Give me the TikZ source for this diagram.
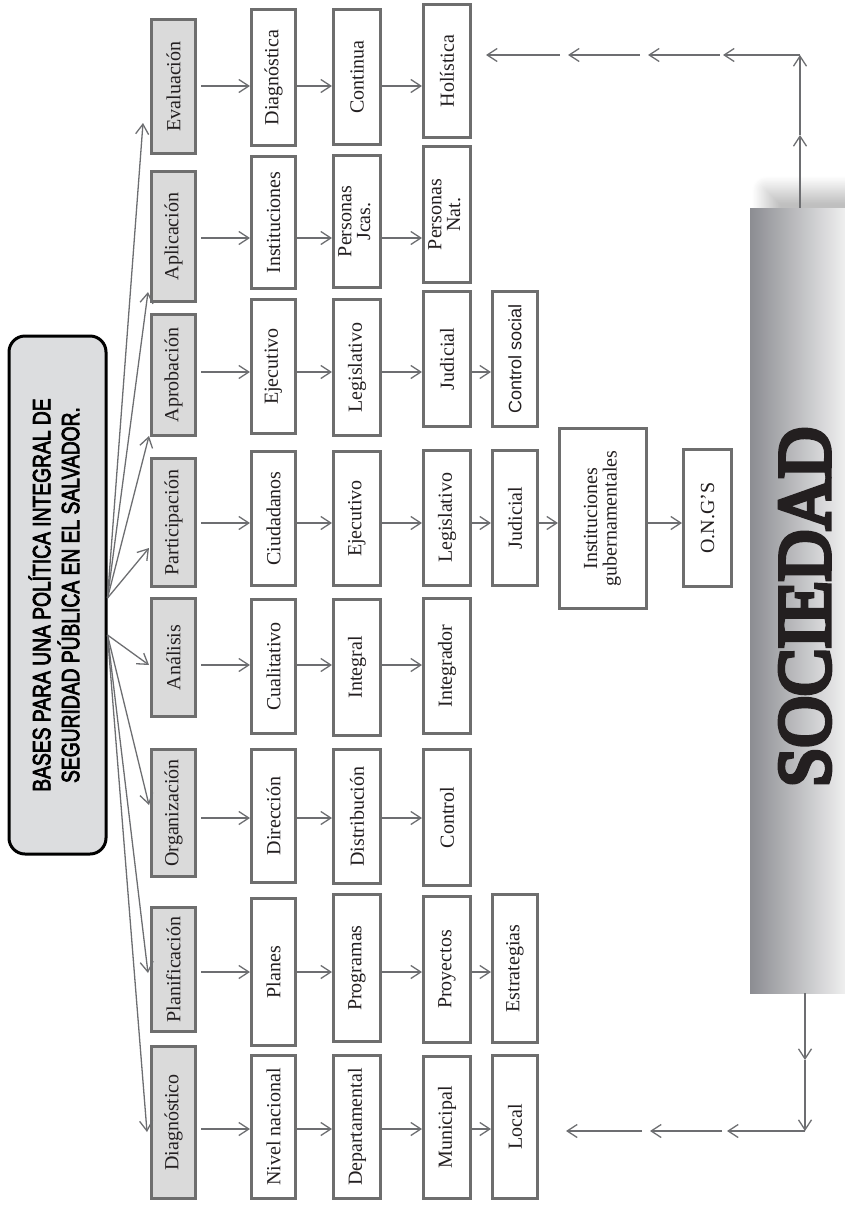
\documentclass[tikz,border=0pt]{standalone}
\usepackage{fontspec}
\setmainfont{Liberation Serif}
\newfontfamily\arialf{Liberation Sans}
\newfontfamily\socfont{Liberation Serif}[FakeBold=6]
\newfontfamily\titfont{Liberation Sans}[FakeBold=3.5]
\usetikzlibrary{arrows.meta,calc,shadows.blur}
\definecolor{bord}{HTML}{6E6E6E}
\definecolor{lgray}{HTML}{DADADA}
\definecolor{tgray}{HTML}{DCDDDF}
\definecolor{arrc}{HTML}{6D6E71}
\definecolor{txt}{HTML}{231F20}
\newcommand\mybox[7]{%
  \pgfmathsetmacro\bxw{#4-#3-3.4}%
  \pgfmathsetmacro\bxh{#6-#5-3.4}%
  \pgfmathsetmacro\bxx{(#3+#4)/2}%
  \pgfmathsetmacro\bxy{(#5+#6)/2}%
  \node[#1, minimum width=\bxw pt, minimum height=\bxh pt] (#2) at (\bxx,\bxy) {\rotatebox{90}{#7}};%
}
\newcommand\twol[2]{\def\arraystretch{0.9}\begin{tabular}{@{}c@{}}#1\\#2\end{tabular}}
\begin{document}
\begin{tikzpicture}[x=1pt,y=-1pt,
  box/.style={draw=bord, line width=3.4pt, fill=white, inner sep=0pt, text=txt, font=\fontsize{20}{21}\selectfont},
  gbox/.style={box, fill=lgray},
  sbox/.style={box, font=\arialf\fontsize{18}{20}\selectfont},
  arr/.style={draw=arrc, line width=1.3pt, -{Straight Barb[length=10pt,width=13pt,line width=1.3pt]}},
]
\useasboundingbox (0,0) rectangle (845,1205);

% SOCIEDAD
\node[draw=none, inner sep=0pt, minimum width=102pt, minimum height=785pt,
  left color={rgb,255:red,140;green,141;blue,146}, right color={rgb,255:red,246;green,246;blue,246},
  blur shadow={shadow xshift=16pt, shadow yshift=18pt, shadow blur radius=14pt, shadow opacity=25, shadow blur steps=20}]
  (soc) at (801,600.5) {};
\node[inner sep=0pt, text=txt, font=\socfont\fontsize{75}{75}\selectfont] (soct) at (805,607)
  {\rotatebox{90}{\scalebox{0.95}[1]{SOCIEDAD}}};

% title
\node[draw=black, line width=3pt, fill=tgray, rounded corners=16pt, inner sep=0pt,
  minimum width=97pt, minimum height=518pt, font=\titfont\fontsize{25}{24}\selectfont]
  (title) at (57.5,595)
  {\rotatebox{90}{\scalebox{0.77}[1]{\begin{tabular}{@{}c@{}}BASES PARA UNA POLÍTICA INTEGRAL DE\\SEGURIDAD PÚBLICA EN EL SALVADOR.\end{tabular}}}};

% level 1
\mybox{gbox}{ev}{150}{197}{18}{155}{Evaluación}
\mybox{gbox}{ap}{150}{197}{170}{303}{Aplicación}
\mybox{gbox}{apr}{150}{197}{313}{437}{Aprobación}
\mybox{gbox}{par}{150}{197}{457}{588}{Participación}
\mybox{gbox}{ana}{150}{197}{597}{718}{Análisis}
\mybox{gbox}{org}{150}{197}{748}{878}{Organización}
\mybox{gbox}{pla}{150}{197}{906}{1033}{Planificación}
\mybox{gbox}{dia}{150}{197}{1045}{1200}{Diagnóstico}

% level 2
\mybox{box}{diag}{250}{297}{8}{147}{Diagnóstica}
\mybox{box}{inst}{250}{297}{155}{290}{Instituciones}
\mybox{box}{ejeA}{250}{297}{298}{435}{Ejecutivo}
\mybox{box}{ciu}{250}{297}{450}{587}{Ciudadanos}
\mybox{box}{cua}{250}{297}{598}{735}{Cualitativo}
\mybox{box}{dir}{250}{297}{748}{884}{Dirección}
\mybox{box}{plan}{250}{297}{897}{1047}{Planes}
\mybox{box}{niv}{250}{297}{1054}{1200}{Nivel nacional}

% level 3
\mybox{box}{cont}{332}{382}{8}{146}{Continua}
\mybox{box}{pj}{332}{382}{154}{289}{\twol{Personas}{Jcas.}}
\mybox{box}{legA}{332}{382}{298}{437}{Legislativo}
\mybox{box}{ejeB}{332}{382}{450}{587}{Ejecutivo}
\mybox{box}{intg}{332}{382}{598}{737}{Integral}
\mybox{box}{dist}{332}{382}{748}{885}{Distribución}
\mybox{box}{prog}{332}{382}{893}{1043}{Programas}
\mybox{box}{dep}{332}{382}{1054}{1200}{Departamental}

% level 4
\mybox{box}{hol}{422}{472}{3}{139}{Holística}
\mybox{box}{pn}{422}{472}{145}{284}{\twol{Personas}{Nat.}}
\mybox{box}{judA}{422}{472}{290}{428}{Judicial}
\mybox{box}{legB}{422}{472}{449}{587}{Legislativo}
\mybox{box}{intr}{422}{472}{597}{735}{Integrador}
\mybox{box}{ctl}{422}{472}{748}{887}{Control}
\mybox{box}{proy}{422}{472}{895}{1044}{Proyectos}
\mybox{box}{mun}{422}{472}{1055}{1200}{Municipal}

% level 5
\mybox{sbox}{cs}{491}{539}{290}{428}{Control social}
\mybox{box}{judB}{491}{539}{449}{587}{Judicial}
\mybox{box}{est}{491}{539}{893}{1044}{Estrategias}
\mybox{box}{loc}{491}{539}{1054}{1200}{Local}

% others
\mybox{box}{ig}{558}{648}{427}{610}{\twol{Instituciones}{gubernamentales}}
\mybox{box}{ong}{682}{733}{448}{588}{O.N.G'S}

% fan arrows
\coordinate (fu) at (title.east |- 0,598);
\coordinate (fd) at (title.east |- 0,635);
\draw[arr] (fu) -- ($(ev.west |- 0,123)+(-7,0)$);
\draw[arr] (fu) -- ($(ap.west |- 0,292)+(-2,0)$);
\draw[arr] (fu) -- ($(apr.west |- 0,436)+(-1,0)$);
\draw[arr] (fu) -- ($(par.west |- 0,548)+(-1,0)$);
\draw[arr] (fd) -- ($(ana.west |- 0,665)+(-1,0)$);
\draw[arr] (fd) -- ($(org.west |- 0,805)+(-1,0)$);
\draw[arr] (fd) -- ($(pla.west |- 0,973)+(-2,0)$);
\draw[arr] (fd) -- ($(dia.west |- 0,1132)+(-3,0)$);

% row arrows
\coordinate (r1) at (0,86);
\coordinate (r2) at (0,238);
\coordinate (r3) at (0,372);
\coordinate (r4) at (0,523);
\coordinate (r5) at (0,665);
\coordinate (r6) at (0,818);
\coordinate (r7) at (0,972);
\coordinate (r8) at (0,1129);
\draw[arr] ($(ev.east |- r1)+(4,0)$) -- (diag.west |- r1);
\draw[arr] (diag.east |- r1) -- (cont.west |- r1);
\draw[arr] (cont.east |- r1) -- (hol.west |- r1);
\draw[arr] ($(ap.east |- r2)+(4,0)$) -- (inst.west |- r2);
\draw[arr] (inst.east |- r2) -- (pj.west |- r2);
\draw[arr] (pj.east |- r2) -- (pn.west |- r2);
\draw[arr] ($(apr.east |- r3)+(4,0)$) -- (ejeA.west |- r3);
\draw[arr] (ejeA.east |- r3) -- (legA.west |- r3);
\draw[arr] (legA.east |- r3) -- (judA.west |- r3);
\draw[arr] (judA.east |- r3) -- (cs.west |- r3);
\draw[arr] ($(par.east |- r4)+(4,0)$) -- (ciu.west |- r4);
\draw[arr] (ciu.east |- r4) -- (ejeB.west |- r4);
\draw[arr] (ejeB.east |- r4) -- (legB.west |- r4);
\draw[arr] (legB.east |- r4) -- (judB.west |- r4);
\draw[arr] (judB.east |- r4) -- (ig.west |- r4);
\draw[arr] (ig.east |- r4) -- (ong.west |- r4);
\draw[arr] ($(ana.east |- r5)+(4,0)$) -- (cua.west |- r5);
\draw[arr] (cua.east |- r5) -- (intg.west |- r5);
\draw[arr] (intg.east |- r5) -- (intr.west |- r5);
\draw[arr] ($(org.east |- r6)+(4,0)$) -- (dir.west |- r6);
\draw[arr] (dir.east |- r6) -- (dist.west |- r6);
\draw[arr] (dist.east |- r6) -- (ctl.west |- r6);
\draw[arr] ($(pla.east |- r7)+(4,0)$) -- (plan.west |- r7);
\draw[arr] (plan.east |- r7) -- (prog.west |- r7);
\draw[arr] (prog.east |- r7) -- (proy.west |- r7);
\draw[arr] (proy.east |- r7) -- (est.west |- r7);
\draw[arr] ($(dia.east |- r8)+(4,0)$) -- (niv.west |- r8);
\draw[arr] (niv.east |- r8) -- (dep.west |- r8);
\draw[arr] (dep.east |- r8) -- (mun.west |- r8);
\draw[arr] (mun.east |- r8) -- (loc.west |- r8);

% feedback flow, top
\coordinate (tc) at (800,55);
\coordinate (tm) at (800,135);
\coordinate (t1) at (723,55);
\coordinate (t2) at (720,55);
\coordinate (t3) at (648,55);
\coordinate (t4) at (640,55);
\coordinate (t5) at (568,55);
\coordinate (t6) at (560,55);
\draw[arr] (soc.north -| tc) -- (tm);
\draw[arr] (tm) -- (tc);
\draw[arr] (tc) -- (t1);
\draw[arr] (t2) -- (t3);
\draw[arr] (t4) -- (t5);
\draw[arr] (t6) -- ($(hol.east |- tc)+(14,0)$);

% feedback flow, bottom
\coordinate (bc) at (805,1131);
\coordinate (bm) at (805,1060);
\coordinate (b1) at (727,1131);
\coordinate (b2) at (722,1131);
\coordinate (b3) at (650,1131);
\coordinate (b4) at (642,1131);
\draw[arr] (soc.south -| bc) -- (bm);
\draw[arr] (bm) -- (bc);
\draw[arr] (bc) -- (b1);
\draw[arr] (b2) -- (b3);
\draw[arr] (b4) -- ($(loc.east |- bc)+(27,0)$);
\end{tikzpicture}
\end{document}
